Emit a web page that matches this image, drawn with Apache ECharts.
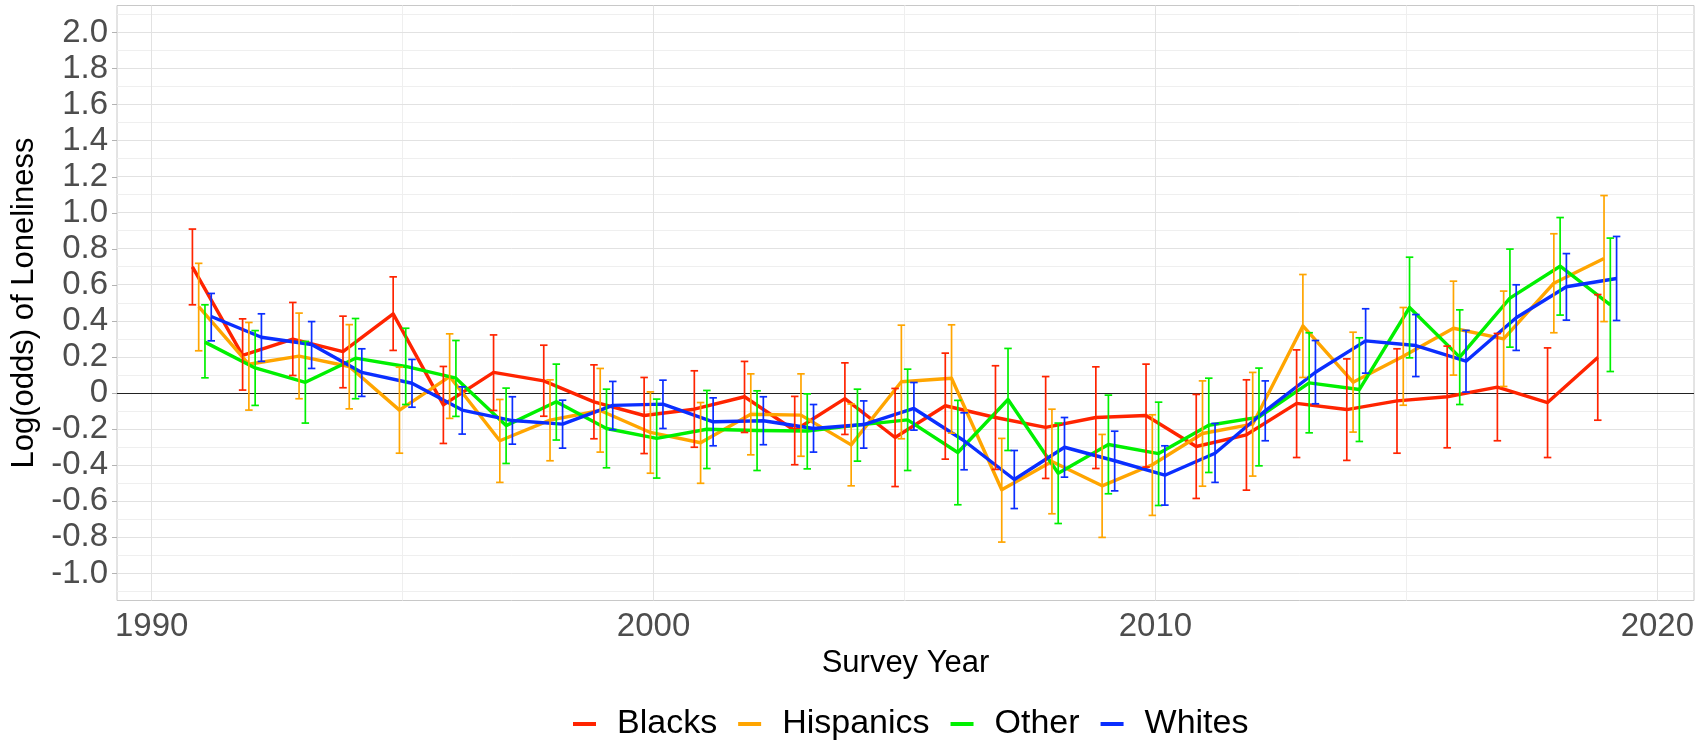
<!DOCTYPE html>
<html>
<head>
<meta charset="utf-8">
<script src="https://cdn.jsdelivr.net/npm/echarts@6/dist/echarts.min.js"></script>
<style>
  html, body { margin: 0; padding: 0; background: #ffffff; }
  #chart { width: 1703px; height: 741px; }
</style>
</head>
<body>
<div id="chart"></div>
<script>
// Survey years
const years = [1991, 1992, 1993, 1994, 1995, 1996, 1997, 1998, 1999, 2000,
               2001, 2002, 2003, 2004, 2005, 2006, 2007, 2008, 2009, 2010,
               2011, 2012, 2013, 2014, 2015, 2016, 2017, 2018, 2019];

const groups = ['Blacks', 'Hispanics', 'Other', 'Whites'];
const groupColors = ['#ff2400', '#ffa500', '#00f000', '#0a2eff'];

// Log(odds) estimates with lower / upper interval bounds per group
const blacksMean = [0.70, 0.21, 0.30, 0.23, 0.44, -0.065, 0.115, 0.068, -0.048, -0.124,
                    -0.089, -0.02, -0.207, -0.03, -0.246, -0.07, -0.135, -0.19, -0.135, -0.124,
                    -0.296, -0.231, -0.057, -0.091, -0.043, -0.02, 0.033, -0.052, 0.198];
const blacksLow  = [0.49, 0.017, 0.098, 0.03, 0.237, -0.279, -0.096, -0.128, -0.253, -0.335,
                    -0.30, -0.218, -0.397, -0.229, -0.518, -0.366, -0.423, -0.473, -0.418, -0.41,
                    -0.584, -0.538, -0.357, -0.373, -0.333, -0.303, -0.264, -0.357, -0.15];
const blacksHigh = [0.91, 0.412, 0.503, 0.427, 0.645, 0.148, 0.323, 0.266, 0.157, 0.087,
                    0.124, 0.176, -0.018, 0.168, 0.026, 0.222, 0.152, 0.092, 0.146, 0.161,
                    -0.007, 0.074, 0.24, 0.19, 0.246, 0.261, 0.331, 0.251, 0.547];

const hispanicsMean = [0.48, 0.16, 0.205, 0.148, -0.094, 0.092, -0.264, -0.15, -0.096, -0.218,
                       -0.275, -0.117, -0.122, -0.287, 0.063, 0.083, -0.536, -0.379, -0.514, -0.397,
                       -0.224, -0.172, 0.373, 0.061, 0.205, 0.36, 0.301, 0.61, 0.747];
const hispanicsLow  = [0.235, -0.094, -0.031, -0.087, -0.333, -0.14, -0.495, -0.375, -0.327, -0.444,
                       -0.50, -0.342, -0.35, -0.514, -0.253, -0.222, -0.826, -0.669, -0.80, -0.678,
                       -0.516, -0.46, 0.087, -0.216, -0.067, 0.10, 0.037, 0.335, 0.397];
const hispanicsHigh = [0.72, 0.392, 0.444, 0.38, 0.144, 0.329, -0.035, 0.074, 0.137, 0.007,
                       -0.052, 0.107, 0.107, -0.06, 0.377, 0.379, -0.251, -0.089, -0.229, -0.12,
                       0.068, 0.115, 0.658, 0.338, 0.475, 0.621, 0.566, 0.884, 1.096];

const otherMean = [0.283, 0.14, 0.06, 0.194, 0.148, 0.083, -0.18, -0.048, -0.196, -0.251,
                   -0.20, -0.207, -0.21, -0.177, -0.148, -0.329, -0.035, -0.444, -0.285, -0.335,
                   -0.178, -0.133, 0.057, 0.02, 0.475, 0.20, 0.527, 0.704, 0.49];
const otherLow  = [0.085, -0.068, -0.166, -0.031, -0.063, -0.129, -0.39, -0.26, -0.414, -0.471,
                   -0.418, -0.429, -0.42, -0.377, -0.429, -0.619, -0.318, -0.723, -0.558, -0.623,
                   -0.44, -0.403, -0.22, -0.268, 0.196, -0.063, 0.255, 0.433, 0.12];
const otherHigh = [0.49, 0.347, 0.287, 0.414, 0.36, 0.292, 0.028, 0.161, 0.022, -0.033,
                   0.015, 0.013, -0.004, 0.022, 0.133, -0.04, 0.248, -0.166, -0.011, -0.05,
                   0.083, 0.139, 0.335, 0.307, 0.754, 0.462, 0.799, 0.974, 0.86];

const whitesMean = [0.425, 0.31, 0.27, 0.115, 0.055, -0.094, -0.152, -0.172, -0.068, -0.061,
                    -0.159, -0.153, -0.196, -0.174, -0.085, -0.264, -0.479, -0.30, -0.375, -0.455,
                    -0.333, -0.098, 0.116, 0.29, 0.264, 0.177, 0.418, 0.59, 0.636];
const whitesLow  = [0.29, 0.176, 0.137, -0.018, -0.078, -0.227, -0.283, -0.305, -0.203, -0.196,
                    -0.292, -0.286, -0.327, -0.305, -0.205, -0.425, -0.64, -0.466, -0.542, -0.621,
                    -0.495, -0.264, -0.059, 0.111, 0.092, 0.006, 0.237, 0.405, 0.403];
const whitesHigh = [0.553, 0.44, 0.397, 0.246, 0.187, 0.035, -0.02, -0.039, 0.065, 0.072,
                    -0.026, -0.02, -0.063, -0.043, 0.059, -0.109, -0.318, -0.135, -0.211, -0.292,
                    -0.168, 0.068, 0.292, 0.468, 0.436, 0.348, 0.601, 0.774, 0.869];

// Axis ticks and grid positions
const xTickLabels = [1990, 2000, 2010, 2020];
const xMinorGrid = [1995, 2005, 2015];
const yTickLabels = [-1.0, -0.8, -0.6, -0.4, -0.2, 0, 0.2, 0.4, 0.6, 0.8,
                     1.0, 1.2, 1.4, 1.6, 1.8, 2.0];
const yMinorGrid = [-1.1, -0.9, -0.7, -0.5, -0.3, -0.1, 0.1, 0.3, 0.5, 0.7,
                    0.9, 1.1, 1.3, 1.5, 1.7, 1.9, 2.1];
const referenceLine = [0];

const means = [blacksMean, hispanicsMean, otherMean, whitesMean];
const lows = [blacksLow, hispanicsLow, otherLow, whitesLow];
const highs = [blacksHigh, hispanicsHigh, otherHigh, whitesHigh];

// Horizontal dodge so overlapping groups stay readable
const dodgeOffsets = [-0.1875, -0.0625, 0.0625, 0.1875];
const capWidth = 0.15;

const FONT = '"Liberation Sans", Arial, Helvetica, sans-serif';

function crisp(v, w) {
  return (Math.round(w) % 2 === 1) ? Math.round(v - 0.5) + 0.5 : Math.round(v);
}

// Straight rule across the whole panel, horizontal ('h') or vertical ('v')
function ruleSeries(values, dir, color, width, z) {
  return {
    type: 'custom',
    silent: true,
    animation: false,
    z: z,
    clip: false,
    data: values.map(v => dir === 'h' ? [2005, v] : [v, 0]),
    encode: { x: 0, y: 1 },
    renderItem(params, api) {
      const cs = params.coordSys;
      const p = api.coord([api.value(0), api.value(1)]);
      let shape;
      if (dir === 'h') {
        const y = crisp(p[1], width);
        shape = { x1: cs.x, y1: y, x2: cs.x + cs.width, y2: y };
      } else {
        const x = crisp(p[0], width);
        shape = { x1: x, y1: cs.y, x2: x, y2: cs.y + cs.height };
      }
      return { type: 'line', shape, style: { stroke: color, lineWidth: width } };
    }
  };
}

const series = [
  ruleSeries(yMinorGrid, 'h', '#efefef', 1, 1),
  ruleSeries(xMinorGrid, 'v', '#efefef', 1, 1),
  ruleSeries(yTickLabels, 'h', '#e2e2e2', 1, 1),
  ruleSeries(xTickLabels, 'v', '#e2e2e2', 1, 1),
  ruleSeries(referenceLine, 'h', '#222222', 1, 2)
];

groups.forEach((name, i) => {
  series.push({
    type: 'line',
    name: name,
    data: years.map((y, k) => [y + dodgeOffsets[i], means[i][k]]),
    symbol: 'none',
    silent: true,
    animation: false,
    z: 3,
    lineStyle: { color: groupColors[i], width: 3.4, join: 'round' },
    itemStyle: { color: groupColors[i] }
  });
});

groups.forEach((name, i) => {
  const color = groupColors[i];
  series.push({
    type: 'custom',
    name: name,
    silent: true,
    animation: false,
    z: 4,
    itemStyle: { color: color },
    data: years.map((y, k) => [y + dodgeOffsets[i], lows[i][k], highs[i][k]]),
    encode: { x: 0, y: [1, 2] },
    renderItem(params, api) {
      const x = api.value(0);
      const lo = api.coord([x, api.value(1)]);
      const hi = api.coord([x, api.value(2)]);
      const half = api.size([capWidth, 0])[0] / 2;
      const style = { stroke: color, lineWidth: 1.7 };
      return {
        type: 'group',
        children: [
          { type: 'line', shape: { x1: lo[0], y1: lo[1], x2: hi[0], y2: hi[1] }, style },
          { type: 'line', shape: { x1: hi[0] - half, y1: hi[1], x2: hi[0] + half, y2: hi[1] }, style },
          { type: 'line', shape: { x1: lo[0] - half, y1: lo[1], x2: lo[0] + half, y2: lo[1] }, style }
        ]
      };
    }
  });
});

const chart = echarts.init(document.getElementById('chart'), null, { renderer: 'canvas' });

chart.setOption({
  animation: false,
  backgroundColor: '#ffffff',
  textStyle: { fontFamily: FONT },
  grid: {
    left: 117, right: 9, top: 5.5, height: 595,
    show: true, borderColor: '#c8c8c8', borderWidth: 1, backgroundColor: 'transparent'
  },
  legend: {
    data: groups,
    top: 702,
    left: 568,
    icon: 'rect',
    itemWidth: 23,
    itemHeight: 4,
    itemGap: 21,
    selectedMode: false,
    textStyle: { fontSize: 34, color: '#000000', fontFamily: FONT, padding: [0, 0, 0, 16] }
  },
  xAxis: {
    type: 'value',
    min: 1989.31,
    max: 2020.73,
    name: 'Survey Year',
    nameLocation: 'middle',
    nameGap: 42,
    nameTextStyle: { fontSize: 31, color: '#000000', fontFamily: FONT },
    axisLine: { show: false },
    splitLine: { show: false },
    axisTick: { show: true, customValues: xTickLabels, length: 5, lineStyle: { color: '#b3b3b3' } },
    axisLabel: {
      customValues: xTickLabels,
      fontSize: 33,
      color: '#4d4d4d',
      margin: 10,
      fontFamily: FONT,
      formatter: v => String(Math.round(v))
    }
  },
  yAxis: {
    type: 'value',
    min: -1.15,
    max: 2.15,
    name: 'Log(odds) of Loneliness',
    nameLocation: 'middle',
    nameGap: 73,
    nameTextStyle: { fontSize: 31, color: '#000000', fontFamily: FONT },
    axisLine: { show: false },
    splitLine: { show: false },
    axisTick: { show: true, customValues: yTickLabels, length: 5, lineStyle: { color: '#b3b3b3' } },
    axisLabel: {
      customValues: yTickLabels,
      fontSize: 33,
      color: '#4d4d4d',
      margin: 9,
      fontFamily: FONT,
      formatter: v => (Math.abs(v) < 1e-9 ? '0' : v.toFixed(1))
    }
  },
  series: series
});
</script>
</body>
</html>
